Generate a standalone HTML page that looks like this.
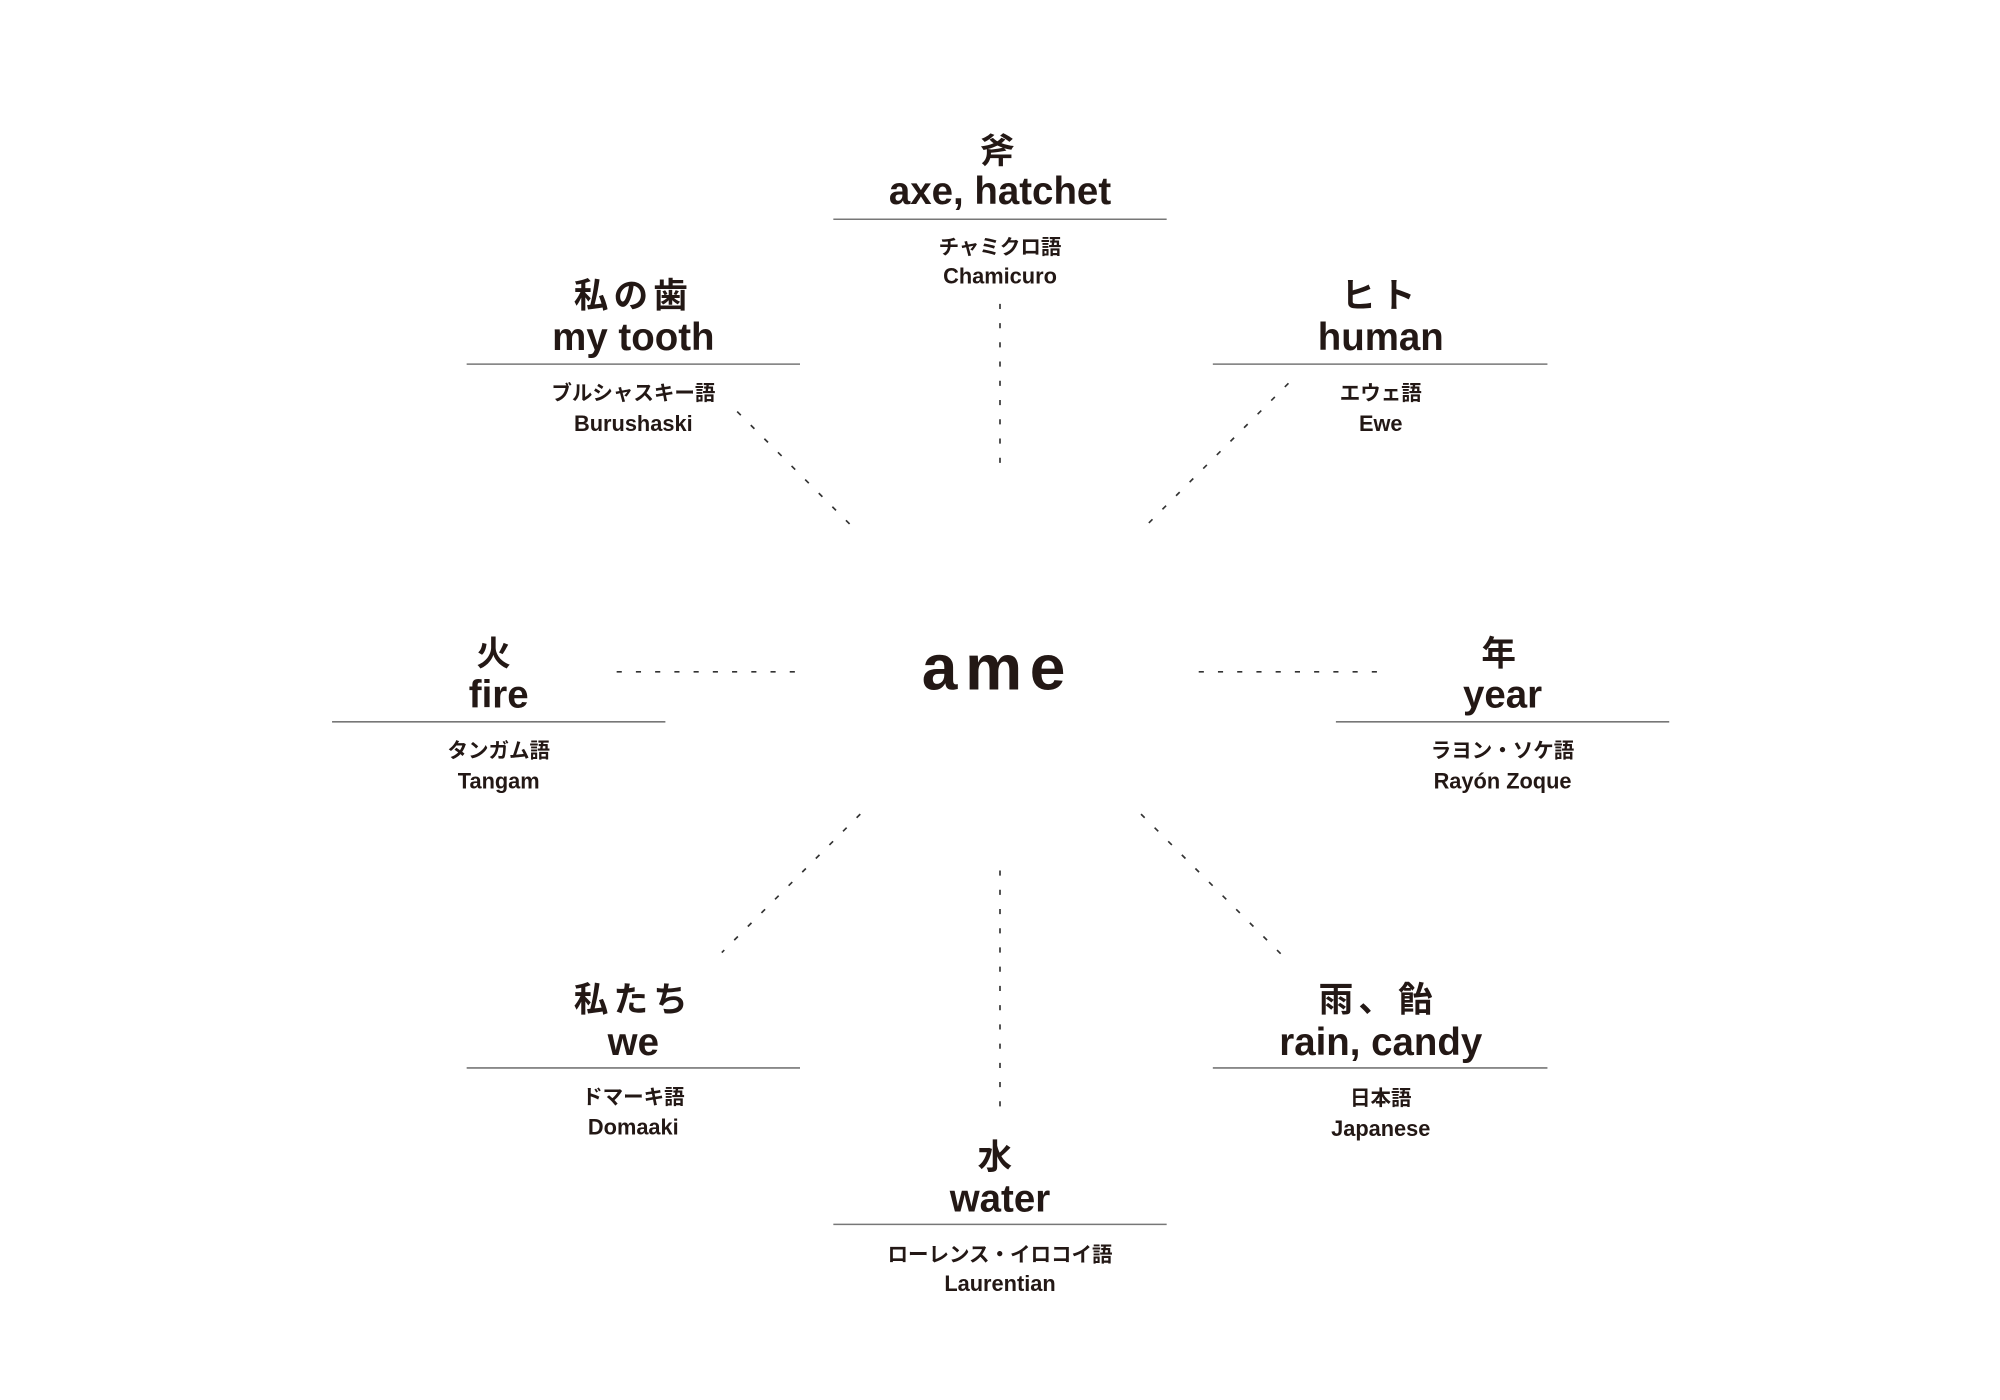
<!DOCTYPE html>
<html><head><meta charset="utf-8"><style>
html,body{margin:0;padding:0;background:#fff;}
svg{display:block}
text{fill:#231815;text-anchor:middle;font-family:"Liberation Sans","Noto Sans CJK JP",sans-serif;font-weight:bold}
.k{font-size:27px;font-family:"Noto Sans CJK JP","Liberation Sans",sans-serif;letter-spacing:4px}
.t{font-size:30px}
.j{font-size:16px;font-family:"Noto Sans CJK JP","Liberation Sans",sans-serif}
.e{font-size:17px}
line.r{stroke:#777;stroke-width:1.2}
line.d{stroke:#333;stroke-width:1.3;stroke-dasharray:4 11}
</style></head><body>
<svg width="2000" height="1400" viewBox="3 1 1560 1092" xmlns="http://www.w3.org/2000/svg">
<rect x="0" y="0" width="1600" height="1100" fill="#fff"/>
<line class="d" x1="783" y1="238" x2="783" y2="372"/>
<line class="d" x1="783" y1="680" x2="783" y2="866"/>
<line class="d" x1="484" y1="525" x2="630" y2="525"/>
<line class="d" x1="938" y1="525" x2="1084" y2="525"/>
<line class="d" x1="578" y1="322" x2="672" y2="416"/>
<line class="d" x1="1008" y1="300" x2="892" y2="416"/>
<line class="d" x1="674" y1="636" x2="566" y2="744"/>
<line class="d" x1="893" y1="636" x2="1009" y2="752"/>

<text x="781" y="539" style="font-size:50px;letter-spacing:6px">ame</text>

<line class="r" x1="653" y1="172" x2="913" y2="172"/>
<text class="k" x="783" y="128">斧</text>
<text class="t" x="783" y="160">axe, hatchet</text>
<text class="j" x="783" y="199">チャミクロ語</text>
<text class="e" x="783" y="222">Chamicuro</text>

<line class="r" x1="367" y1="285" x2="627" y2="285"/>
<text class="k" x="497" y="241">私の歯</text>
<text class="t" x="497" y="274">my tooth</text>
<text class="j" x="497" y="313">ブルシャスキー語</text>
<text class="e" x="497" y="337">Burushaski</text>

<line class="r" x1="949" y1="285" x2="1210" y2="285"/>
<text class="k" x="1080" y="241">ヒト</text>
<text class="t" x="1080" y="274">human</text>
<text class="j" x="1080" y="313">エウェ語</text>
<text class="e" x="1080" y="337">Ewe</text>

<line class="r" x1="262" y1="564" x2="522" y2="564"/>
<text class="k" x="390" y="520">火</text>
<text class="t" x="392" y="553">fire</text>
<text class="j" x="392" y="592">タンガム語</text>
<text class="e" x="392" y="616">Tangam</text>

<line class="r" x1="1045" y1="564" x2="1305" y2="564"/>
<text class="k" x="1174" y="520">年</text>
<text class="t" x="1175" y="553">year</text>
<text class="j" x="1175" y="592">ラヨン・ソケ語</text>
<text class="e" x="1175" y="616">Rayón Zoque</text>

<line class="r" x1="367" y1="834" x2="627" y2="834"/>
<text class="k" x="497" y="790">私たち</text>
<text class="t" x="497" y="824">we</text>
<text class="j" x="497" y="862">ドマーキ語</text>
<text class="e" x="497" y="886">Domaaki</text>

<line class="r" x1="949" y1="834" x2="1210" y2="834"/>
<text class="k" x="1078" y="790">雨、飴</text>
<text class="t" x="1080" y="824">rain, candy</text>
<text class="j" x="1080" y="863">日本語</text>
<text class="e" x="1080" y="887">Japanese</text>

<line class="r" x1="653" y1="956" x2="913" y2="956"/>
<text class="k" x="781" y="913">水</text>
<text class="t" x="783" y="946">water</text>
<text class="j" x="783" y="985">ローレンス・イロコイ語</text>
<text class="e" x="783" y="1008">Laurentian</text>
</svg>
</body></html>
